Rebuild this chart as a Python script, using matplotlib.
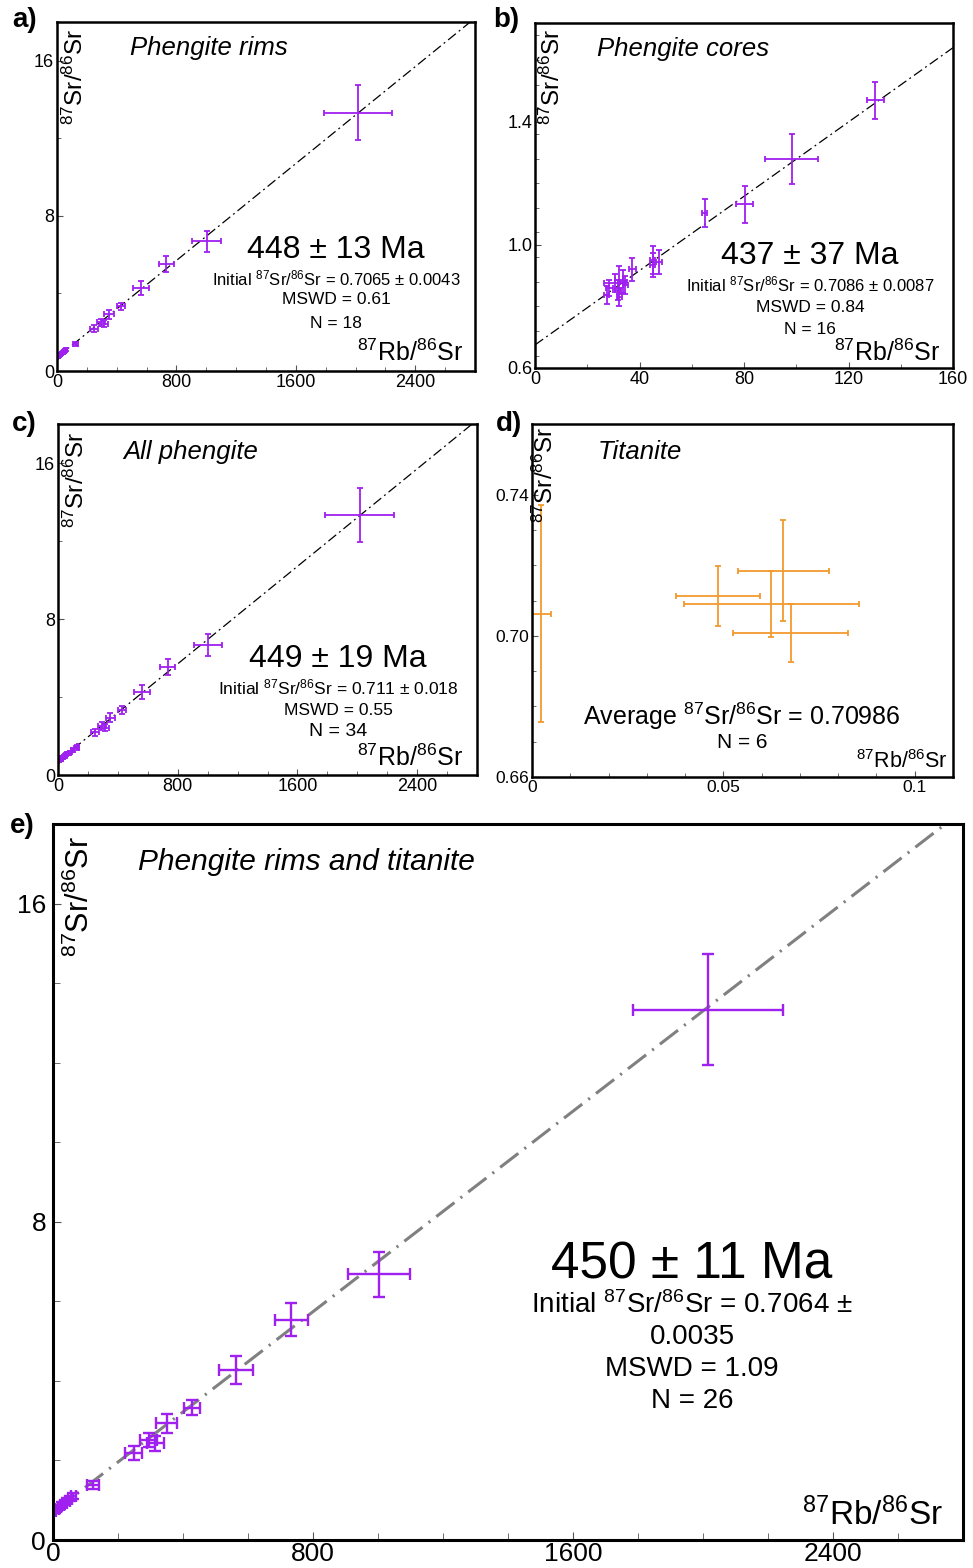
import matplotlib
matplotlib.use("Agg")
import matplotlib.pyplot as plt
from matplotlib.ticker import MultipleLocator, FixedLocator

plt.rcParams['font.family'] = ['Liberation Sans', 'DejaVu Sans']
plt.rcParams['mathtext.fontset'] = 'custom'
plt.rcParams['mathtext.rm'] = 'Liberation Sans'
plt.rcParams['mathtext.it'] = 'Liberation Sans:italic'
plt.rcParams['mathtext.bf'] = 'Liberation Sans:bold'

W, H = 973, 1568
PURPLE = '#A020F0'
ORANGE = '#F29A2E'
SR = r'$^{87}$Sr/$^{86}$Sr'
RB = r'$^{87}$Rb/$^{86}$Sr'

# phengite rims: 87Rb/86Sr, 87Sr/86Sr and errors
rim_x = [2016, 1002, 733, 563, 428, 350, 294, 315, 248, 124, 62, 52, 44, 36, 28, 20, 12, 5]
rim_y = [13.33, 6.68, 5.54, 4.27, 3.33, 2.93, 2.52, 2.43, 2.19, 1.39, 1.10, 1.04, 0.99, 0.94, 0.89, 0.84, 0.79, 0.74]
rim_xe = [230, 95, 51, 52, 25, 32, 25, 25, 25, 18, 8, 7, 7, 6, 6, 5, 5, 5]
rim_ye = [1.40, 0.56, 0.41, 0.35, 0.19, 0.23, 0.18, 0.18, 0.17, 0.10, 0.08, 0.07, 0.07, 0.06, 0.06, 0.05, 0.05, 0.05]

# phengite cores
core_x = [130.3, 98.2, 80.3, 65.0, 47.6, 45.0, 45.0, 37.3, 33.8, 32.2, 31.9, 30.6, 27.4, 32.2, 28.5, 34.5]
core_y = [1.469, 1.278, 1.131, 1.104, 0.944, 0.950, 0.934, 0.921, 0.880, 0.885, 0.853, 0.876, 0.837, 0.831, 0.860, 0.870]
core_xe = [3.2, 10.2, 3.3, 1.0, 1.2, 1.0, 1.0, 1.2, 1.3, 1.5, 1.2, 4.0, 1.0, 1.0, 1.2, 1.0]
core_ye = [0.061, 0.082, 0.060, 0.045, 0.038, 0.045, 0.040, 0.037, 0.038, 0.046, 0.032, 0.030, 0.029, 0.030, 0.025, 0.030]

# titanite
tit_x = [0.0024, 0.0486, 0.0625, 0.0656, 0.0676]
tit_y = [0.7063, 0.7113, 0.7091, 0.7184, 0.7007]
tit_xe = [0.0025, 0.0109, 0.0229, 0.0119, 0.0150]
tit_ye = [0.0307, 0.0086, 0.0093, 0.0143, 0.0082]

# isochron lines (intercept, slope)
line_a = (0.70, 0.00625)
line_b = (0.675, 0.00603)
line_c = (0.70, 0.00625)
line_e = (0.70, 0.0063)

fig = plt.figure(figsize=(W / 100, H / 100), dpi=100)


def rect(l, t, r, b):
    return [l / W, 1 - b / H, (r - l) / W, (b - t) / H]


def ftext(px, py, s, **kw):
    fig.text(px / W, 1 - py / H, s, **kw)


def setup(ax, xlim, ylim, xt, xl, yt, yl, xminor, yminor, fs, lw, xpad=2, ypad=2):
    ax.set_xlim(*xlim)
    ax.set_ylim(*ylim)
    ax.xaxis.set_major_locator(FixedLocator(xt))
    ax.yaxis.set_major_locator(FixedLocator(yt))
    ax.set_xticklabels(xl)
    ax.set_yticklabels(yl)
    ax.xaxis.set_minor_locator(MultipleLocator(xminor))
    ax.yaxis.set_minor_locator(MultipleLocator(yminor))
    ax.tick_params(which='both', direction='in', color='#555555', labelsize=fs)
    ax.tick_params(axis='x', pad=xpad)
    ax.tick_params(axis='y', pad=ypad)
    ax.tick_params(which='major', length=4, width=0.8)
    ax.tick_params(which='minor', length=3, width=0.6)
    for s in ax.spines.values():
        s.set_linewidth(lw)


# a) Phengite rims
ax = fig.add_axes(rect(57, 22, 475, 371))
setup(ax, (0, 2800), (0, 18), [0, 800, 1600, 2400], ['0', '800', '1600', '2400'],
      [0, 8, 16], ['0', '8', '16'], 200, 4, 13, 1.8)
ax.axline((0, line_a[0]), slope=line_a[1], color='black', lw=0.9, ls=(0, (8, 3, 1.5, 3)))
ax.errorbar(rim_x, rim_y, xerr=rim_xe, yerr=rim_ye, fmt='none', ecolor=PURPLE,
            elinewidth=1.3, capsize=2, capthick=1.3)

# b) Phengite cores
ax = fig.add_axes(rect(535, 23, 953, 368))
setup(ax, (0, 160), (0.6, 1.72), [0, 40, 80, 120, 160], ['0', '40', '80', '120', '160'],
      [0.6, 1.0, 1.4], ['0.6', '1.0', '1.4'], 20, 0.08, 13, 1.8)
ax.axline((0, line_b[0]), slope=line_b[1], color='black', lw=0.9, ls=(0, (8, 3, 1.5, 3)))
ax.errorbar(core_x, core_y, xerr=core_xe, yerr=core_ye, fmt='none', ecolor=PURPLE,
            elinewidth=1.3, capsize=2, capthick=1.3)

# c) All phengite
ax = fig.add_axes(rect(58, 424, 477, 775))
setup(ax, (0, 2800), (0, 18), [0, 800, 1600, 2400], ['0', '800', '1600', '2400'],
      [0, 8, 16], ['0', '8', '16'], 200, 4, 13, 1.8)
ax.axline((0, line_c[0]), slope=line_c[1], color='black', lw=0.9, ls=(0, (8, 3, 1.5, 3)))
ax.errorbar(rim_x + core_x, rim_y + core_y, xerr=rim_xe + core_xe, yerr=rim_ye + core_ye,
            fmt='none', ecolor=PURPLE, elinewidth=1.3, capsize=2, capthick=1.3)

# d) Titanite
ax = fig.add_axes(rect(532, 424, 953, 777))
setup(ax, (0, 0.11), (0.66, 0.76), [0, 0.05, 0.1], ['0', '0.05', '0.1'],
      [0.66, 0.70, 0.74], ['0.66', '0.70', '0.74'], 0.01, 0.01, 12.5, 1.8)
ax.errorbar(tit_x, tit_y, xerr=tit_xe, yerr=tit_ye, fmt='none', ecolor=ORANGE,
            elinewidth=1.3, capsize=2, capthick=1.3)

# e) Phengite rims and titanite
ax = fig.add_axes(rect(53, 824, 963, 1540))
setup(ax, (0, 2800), (0, 18), [0, 800, 1600, 2400], ['0', '800', '1600', '2400'],
      [0, 8, 16], ['0', '8', '16'], 200, 2, 19, 2.2, xpad=1.5, ypad=5)
ax.tick_params(which='major', length=6)
ax.tick_params(which='minor', length=5)
ax.axline((0, line_e[0]), slope=line_e[1], color='#808080', lw=2.2, ls=(0, (7.5, 2.5, 0.7, 2.5)))
ax.errorbar(rim_x + tit_x, rim_y + tit_y, xerr=rim_xe + tit_xe, yerr=rim_ye + tit_ye,
            fmt='none', ecolor=PURPLE, elinewidth=1.7, capsize=4.3, capthick=1.7)

# panel letters
for px, py, s in [(12, 20, 'a)'), (493, 20, 'b)'), (12, 424, 'c)'), (496, 424, 'd)'), (10, 826, 'e)')]:
    ftext(px, py, s, fontsize=20, fontweight='bold', va='center', ha='left')

# titles
ftext(130, 48, 'Phengite rims', fontsize=18.5, style='italic', va='center')
ftext(597, 49, 'Phengite cores', fontsize=18.5, style='italic', va='center')
ftext(123, 452, 'All phengite', fontsize=18.5, style='italic', va='center')
ftext(598, 452, 'Titanite', fontsize=18.5, style='italic', va='center')
ftext(138, 862, 'Phengite rims and titanite', fontsize=21.5, style='italic', va='center')

# axis labels
for px, py in [(75, 77), (552, 77), (76, 480), (545, 475)]:
    ftext(px, py, SR, fontsize=17.5, rotation=90, ha='center', va='center')
ftext(80, 897, SR, fontsize=22, rotation=90, ha='center', va='center')
ftext(463, 353, RB, fontsize=18, ha='right', va='center')
ftext(940, 353, RB, fontsize=18, ha='right', va='center')
ftext(463, 758, RB, fontsize=18, ha='right', va='center')
ftext(948, 762, RB, fontsize=15.5, ha='right', va='center')
ftext(943, 1515, RB, fontsize=24, ha='right', va='center')

# results
ftext(336, 250, '448 ± 13 Ma', fontsize=23, ha='center', va='center')
ftext(336, 278, 'Initial ' + SR + ' = 0.7065 ± 0.0043', fontsize=12, ha='center', va='center')
ftext(336, 300, 'MSWD = 0.61', fontsize=12.5, ha='center', va='center')
ftext(336, 323, 'N = 18', fontsize=12.5, ha='center', va='center')

ftext(810, 256, '437 ± 37 Ma', fontsize=23, ha='center', va='center')
ftext(810, 284, 'Initial ' + SR + ' = 0.7086 ± 0.0087', fontsize=12, ha='center', va='center')
ftext(810, 307, 'MSWD = 0.84', fontsize=12.5, ha='center', va='center')
ftext(810, 329, 'N = 16', fontsize=12.5, ha='center', va='center')

ftext(338, 659, '449 ± 19 Ma', fontsize=23, ha='center', va='center')
ftext(338, 687, 'Initial ' + SR + ' = 0.711 ± 0.018', fontsize=12.5, ha='center', va='center')
ftext(338, 710, 'MSWD = 0.55', fontsize=12.5, ha='center', va='center')
ftext(338, 731, 'N = 34', fontsize=14, ha='center', va='center')

ftext(742, 716, 'Average ' + SR + ' = 0.70986', fontsize=18, ha='center', va='center')
ftext(742, 743, 'N = 6', fontsize=15, ha='center', va='center')

ftext(692, 1265, '450 ± 11 Ma', fontsize=37, ha='center', va='center')
ftext(692, 1305, 'Initial ' + SR + ' = 0.7064 ±', fontsize=20, ha='center', va='center')
ftext(692, 1337, '0.0035', fontsize=20, ha='center', va='center')
ftext(692, 1369, 'MSWD = 1.09', fontsize=20, ha='center', va='center')
ftext(692, 1401, 'N = 26', fontsize=20, ha='center', va='center')

fig.savefig('out.png', dpi=100)
